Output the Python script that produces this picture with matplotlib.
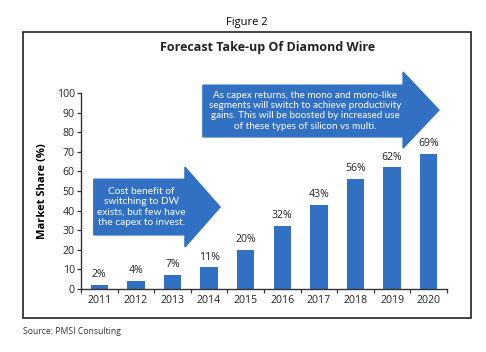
import matplotlib

matplotlib.use("Agg")
import matplotlib.pyplot as plt
from matplotlib.patches import Polygon, Rectangle

years = ["2011", "2012", "2013", "2014", "2015", "2016", "2017", "2018", "2019", "2020"]
share = [2, 4, 7, 11, 20, 32, 43, 56, 62, 69]
small_note = "Cost benefit of\nswitching to DW\nexists, but few have\nthe capex to invest."
big_note = ("As capex returns, the mono and mono-like\n"
            "segments will switch to achieve productivity\n"
            "gains. This will be boosted by increased use\n"
            "of these types of silicon vs multi.")

BLUE = "#3170c2"
AXIS = "#333333"
plt.rcParams["font.family"] = ["Open Sans", "DejaVu Sans"]

fig = plt.figure(figsize=(4.86, 3.52), dpi=100)
W, H = 486, 352
ax = fig.add_axes([81 / W, 1 - 289 / H, 366 / W, 196 / H])

x = range(len(years))
ax.bar(x, share, width=0.48, color=BLUE, zorder=2)
for i, v in zip(x, share):
    ax.text(i, v + 2.5, f"{v}%", ha="center", va="bottom", fontsize=7.6, color="#222222")

ax.set_xlim(-0.5, len(years) - 0.5)
ax.set_ylim(0, 100)
ax.set_yticks(range(0, 101, 10))
ax.tick_params(axis="y", labelsize=7.6, length=3, width=0.9, color=AXIS, pad=1.5, labelcolor="#222222")
ax.set_xticks(list(x))
ax.set_xticklabels(years)
ax.tick_params(axis="x", labelsize=7.6, length=0, pad=4, labelcolor="#222222")
ax.set_xticks([i + 0.5 for i in range(-1, len(years))], minor=True)
ax.tick_params(axis="x", which="minor", length=3, width=0.9, color=AXIS)
for s in ("top", "right"):
    ax.spines[s].set_visible(False)
for s in ("left", "bottom"):
    ax.spines[s].set_color(AXIS)
    ax.spines[s].set_linewidth(1.0)
ax.set_ylabel("Market Share (%)", fontsize=8, fontweight="bold", labelpad=6)

# arrow callouts (data coordinates)
small = [(-0.15, 56), (2.34, 56), (2.34, 62.2), (3.3, 41.8), (2.34, 21.4), (2.34, 27.6), (-0.15, 27.6)]
big = [(2.83, 104), (8.3, 104), (8.3, 110.7), (9.28, 91.3), (8.3, 71.9), (8.3, 77.6), (2.83, 77.6)]
for pts in (small, big):
    ax.add_patch(Polygon(pts, closed=True, color=BLUE, zorder=3, clip_on=False))
note_font = ["Lato", "DejaVu Sans"]
ax.text(1.15, 41.8, small_note, ha="center", va="center", color="white", family=note_font,
        fontsize=7.3, linespacing=1.2, zorder=4)
ax.text(5.62, 91, big_note, ha="center", va="center", color="white", family=note_font,
        fontsize=7.1, linespacing=1.2, zorder=4, clip_on=False)

# frame, headings and source
fig.patches.append(Rectangle((23 / W, 1 - 318 / H), 448 / W, 286 / H, transform=fig.transFigure,
                             fill=False, edgecolor="#222222", linewidth=1.2))
fig.text(247 / W, 1 - 22 / H, "Figure 2", ha="center", va="center", fontsize=8)
fig.text(268 / W, 1 - 48 / H, "Forecast Take-up Of Diamond Wire", ha="center", va="center",
         fontsize=9, fontweight="bold", color="#222222")
fig.text(23 / W, 1 - 331 / H, "Source: PMSI Consulting", ha="left", va="center", fontsize=6.2,
         color="#333333")

fig.savefig("out.png", dpi=100)
